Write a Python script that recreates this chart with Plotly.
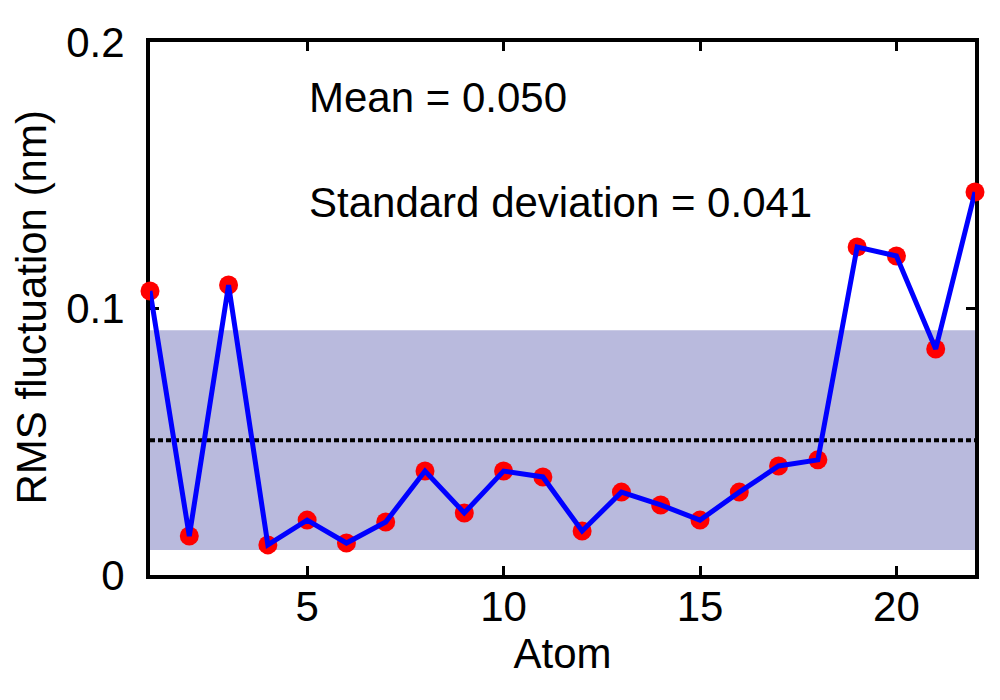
import plotly.graph_objects as go

atoms = list(range(1, 23))
rmsf = [0.1066, 0.0146, 0.1088, 0.0113, 0.0206, 0.0120, 0.0199, 0.0390, 0.0233, 0.0390, 0.0368,
        0.0165, 0.0311, 0.0263, 0.0206, 0.0311, 0.0409, 0.0432, 0.1231, 0.1197, 0.0848, 0.1437]
mean_val = 0.0506
std_val = 0.0412
mean_label = "Mean = 0.050"
std_label = "Standard deviation = 0.041"
y_title = "RMS fluctuation (nm)"
x_title = "Atom"
x_ticks = [5, 10, 15, 20]
y_ticks = [0, 0.1, 0.2]
y_ticktext = ["0", "0.1", "0.2"]

FONT = "Liberation Sans, Arial, sans-serif"
FS = 42

fig = go.Figure()
fig.add_trace(go.Scatter(x=atoms, y=rmsf, mode="markers",
                         marker=dict(color="#ff0000", size=19, line=dict(width=0)),
                         cliponaxis=False, showlegend=False))
fig.add_trace(go.Scatter(x=atoms, y=rmsf, mode="lines",
                         line=dict(color="#0000ff", width=5),
                         cliponaxis=False, showlegend=False))

fig.add_shape(type="rect", xref="x", yref="y", x0=1, x1=22,
              y0=mean_val - std_val, y1=mean_val + std_val,
              fillcolor="#b9badd", line=dict(width=0), layer="below")
fig.add_shape(type="line", xref="x", yref="y", x0=1, x1=22, y0=mean_val, y1=mean_val,
              line=dict(color="black", width=4, dash="5px,3px"), layer="below")

fig.add_annotation(x=5.0, y=0.179, xref="x", yref="y", text=mean_label, showarrow=False,
                   xanchor="left", yanchor="middle", font=dict(size=FS, color="black", family=FONT))
fig.add_annotation(x=5.0, y=0.1396, xref="x", yref="y", text=std_label, showarrow=False,
                   xanchor="left", yanchor="middle", font=dict(size=FS, color="black", family=FONT))
fig.add_annotation(x=0, y=0.5, xref="paper", yref="paper", text=y_title, showarrow=False,
                   textangle=-90, xanchor="center", yanchor="middle", xshift=-119, yshift=1,
                   borderpad=0,
                   font=dict(size=FS, color="black", family=FONT))

fig.update_layout(
    width=1000, height=700,
    margin=dict(l=142, r=33, t=34, b=133, autoexpand=False),
    paper_bgcolor="white", plot_bgcolor="white",
    font=dict(family=FONT, size=FS, color="black"),
    showlegend=False,
)
fig.update_xaxes(range=[1, 22], tickvals=x_ticks, ticks="inside", ticklen=9, tickwidth=3,
                 tickcolor="black", showline=True, linewidth=4, linecolor="black", mirror="ticks",
                 showgrid=False, zeroline=False, layer="below traces", automargin=False,
                 ticklabelstandoff=-8,
                 title=dict(text=x_title, standoff=0, font=dict(size=FS)))
fig.update_yaxes(range=[0, 0.2], tickvals=y_ticks, ticktext=y_ticktext, ticks="inside", ticklen=9,
                 tickwidth=3, tickcolor="black", showline=True, linewidth=4, linecolor="black",
                 mirror="ticks", showgrid=False, zeroline=False, layer="below traces", automargin=False,
                 ticklabelstandoff=13)

fig.write_html("out.html")
